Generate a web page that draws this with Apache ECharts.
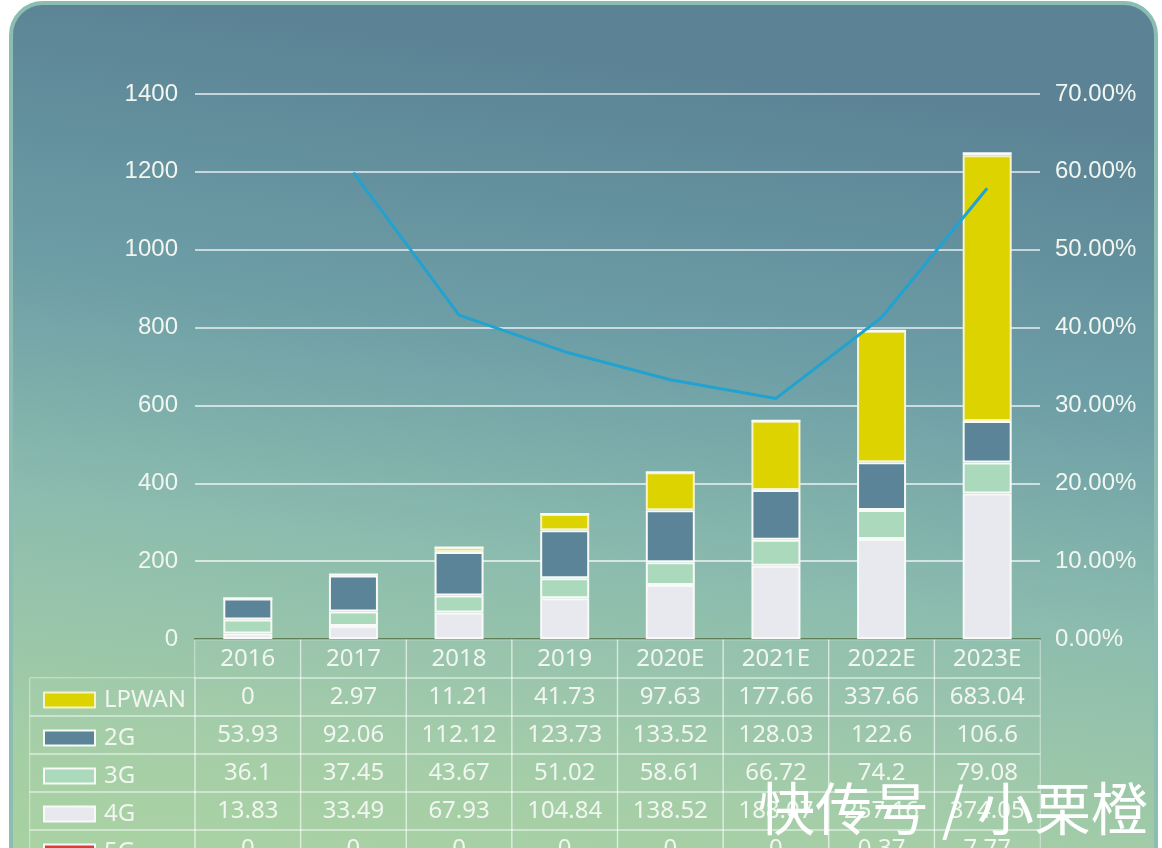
<!DOCTYPE html>
<html>
<head>
<meta charset="utf-8">
<script src="https://cdn.jsdelivr.net/npm/echarts@6/dist/echarts.min.js"></script>
<style>html,body{margin:0;padding:0;background:#fff;overflow:hidden;}#c{width:1162px;height:900px;}</style>
</head>
<body>
<div id="c"></div>
<script>
// ---- data ----
const years = ['2016','2017','2018','2019','2020E','2021E','2022E','2023E'];
const lpwan = [0, 2.97, 11.21, 41.73, 97.63, 177.66, 337.66, 683.04];
const g2    = [53.93, 92.06, 112.12, 123.73, 133.52, 128.03, 122.6, 106.6];
const g3    = [36.1, 37.45, 43.67, 51.02, 58.61, 66.72, 74.2, 79.08];
const g4    = [13.83, 33.49, 67.93, 104.84, 138.52, 188.07, 257.16, 374.05];
const g5    = [0, 0, 0, 0, 0, 0, 0.37, 7.77];
const growth = [null, 59.9, 41.6, 36.9, 33.3, 30.9, 41.3, 57.9]; // % (right axis)
const seriesNames = ['LPWAN', '2G', '3G', '4G', '5G'];
const leftAxis = {min: 0, max: 1400, interval: 200};
const rightAxis = {min: 0, max: 70, interval: 10};

const colors = {LPWAN: '#dcd300', '2G': '#5b8498', '3G': '#abd9bb', '4G': '#e8e8ef', '5G': '#e03a3a'};
const rowsData = [lpwan, g2, g3, g4, g5];
const txt = '#f2f6f0';
const axisFont = 'Liberation Sans, Arial, sans-serif';
const tableFont = 'Noto Sans, Open Sans, sans-serif';

const tableCells = [];
for (let r = 0; r < 6; r++) {
  for (let c = 0; c < years.length; c++) {
    tableCells.push([c, r, r === 0 ? 0 : rowsData[r - 1][c]]);
  }
}
const legendCells = [];
for (let r = 0; r < 5; r++) legendCells.push([0, r, 0]);

const chart = echarts.init(document.getElementById('c'), null, {renderer: 'canvas'});

function barSeries(name, data) {
  return {
    name: name, type: 'bar', stack: 'total', data: data,
    xAxisIndex: 0, yAxisIndex: 0, barWidth: 49,
    itemStyle: {color: colors[name], borderColor: name === 'LPWAN' ? '#f6f3c8' : '#f8faf8', borderWidth: 2},
    emphasis: {disabled: true}
  };
}

const option = {
  backgroundColor: '#ffffff',
  animation: false,
  graphic: [
    {
      type: 'rect', z: -10, zlevel: 0,
      shape: {x: 11, y: 3, width: 1145, height: 950, r: 32},
      style: {
        fill: new echarts.graphic.LinearGradient(0.1, 0, 0, 0.95, [
          {offset: 0, color: '#5b8395'},
          {offset: 0.3, color: '#6d9ea6'},
          {offset: 0.55, color: '#8cbcae'},
          {offset: 0.8, color: '#a3cda6'},
          {offset: 1, color: '#aad39e'}
        ]),
        stroke: '#8cbdb2', lineWidth: 4
      }
    },
    {
      type: 'text', z: 100, left: 758, top: 780,
      style: {
        text: '快传号 / 小栗橙', fill: '#ffffff',
        font: '400 57px "Noto Sans CJK SC", sans-serif',
        shadowColor: 'rgba(0,0,0,0.25)', shadowBlur: 3
      }
    }
  ],
  legend: {
    orient: 'vertical', left: 38, top: 683,
    itemWidth: 51, itemHeight: 15, itemGap: 14,
    icon: 'rect',
    data: seriesNames,
    textStyle: {color: txt, fontSize: 24, fontFamily: tableFont, lineHeight: 22, padding: [0, 0, 0, 4]},
    selectedMode: false
  },
  visualMap: {
    show: false, type: 'continuous', min: 0, max: 10000, seriesIndex: [6, 7],
    inRange: {color: ['rgba(255,255,255,0.03)', 'rgba(255,255,255,0.03)']},
    outOfRange: {color: ['rgba(255,255,255,0.03)']}
  },
  grid: [
    {left: 195, width: 845, top: 94, height: 545},
    {left: 195, width: 845, top: 640, height: 228},
    {left: 30, width: 165, top: 678, height: 190}
  ],
  xAxis: [
    {
      type: 'category', gridIndex: 0, data: years,
      axisLine: {show: true, lineStyle: {color: '#61805a', width: 2}},
      axisTick: {show: false}, axisLabel: {show: false}, splitLine: {show: false}
    },
    {type: 'category', gridIndex: 1, data: years, show: false},
    {type: 'category', gridIndex: 2, data: [''], show: false}
  ],
  yAxis: [
    {
      type: 'value', gridIndex: 0, min: leftAxis.min, max: leftAxis.max, interval: leftAxis.interval,
      axisLine: {show: false}, axisTick: {show: false},
      axisLabel: {color: txt, fontSize: 24, fontFamily: axisFont, margin: 17, formatter: v => String(v)},
      splitLine: {show: true, lineStyle: {color: 'rgba(255,255,255,0.85)', width: 1.5}}
    },
    {
      type: 'value', gridIndex: 0, position: 'right', min: rightAxis.min, max: rightAxis.max, interval: rightAxis.interval,
      axisLine: {show: false}, axisTick: {show: false},
      axisLabel: {color: txt, fontSize: 24, fontFamily: axisFont, margin: 15,
        formatter: v => v.toFixed(2) + '%'},
      splitLine: {show: false}
    },
    {type: 'category', gridIndex: 1, inverse: true, data: ['', 'LPWAN', '2G', '3G', '4G', '5G'], show: false},
    {type: 'category', gridIndex: 2, inverse: true, data: seriesNames, show: false}
  ],
  series: [
    barSeries('4G', g4),
    barSeries('3G', g3),
    barSeries('2G', g2),
    barSeries('LPWAN', lpwan),
    barSeries('5G', g5),
    {
      name: 'growth', type: 'line', xAxisIndex: 0, yAxisIndex: 1, data: growth,
      symbol: 'none', z: 5,
      lineStyle: {color: '#22a2d0', width: 3},
      emphasis: {disabled: true}
    },
    {
      name: 'table', type: 'heatmap', xAxisIndex: 1, yAxisIndex: 2, data: tableCells,
      itemStyle: {borderColor: 'rgba(255,255,255,0.5)', borderWidth: 1},
      label: {
        show: true, color: txt, fontSize: 24, fontFamily: tableFont,
        formatter: p => p.data[1] === 0 ? years[p.data[0]] : String(p.data[2])
      },
      emphasis: {disabled: true}
    },
    {
      name: 'legendcol', type: 'heatmap', xAxisIndex: 2, yAxisIndex: 3, data: legendCells,
      itemStyle: {borderColor: 'rgba(255,255,255,0.5)', borderWidth: 1},
      label: {show: false},
      emphasis: {disabled: true}
    }
  ]
};
chart.setOption(option);
</script>
</body>
</html>
